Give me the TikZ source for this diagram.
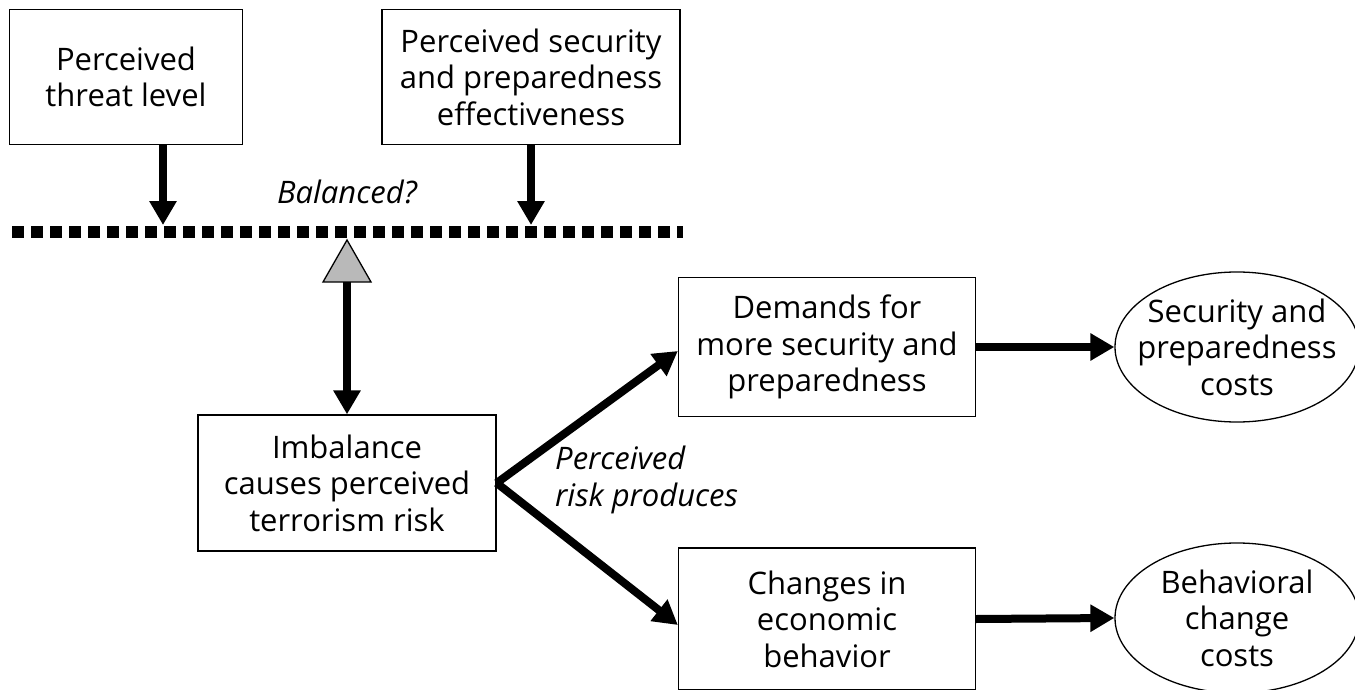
\documentclass[tikz,border=0pt]{standalone}
\usepackage{fontspec}
\setmainfont{Open Sans}
\usepackage{tikz}
\usetikzlibrary{arrows.meta, shapes.geometric, positioning}
\tikzset{%
  >={Triangle[width=26pt,length=24pt]},
  % Specifications for style of nodes:
          base/.style = {draw=black, line width=1.3pt, inner sep=0pt,
                         align=center, font=\fontsize{31}{36.5}\selectfont},
        factor/.style = {base, rectangle, minimum width=233pt, minimum height=135pt},
       outcome/.style = {base, rectangle, minimum width=297pt, minimum height=139pt},
          cost/.style = {base, ellipse, inner xsep=-24pt, inner ysep=-22pt,
                         minimum width=244pt, minimum height=150pt},
          note/.style = {font=\fontsize{31}{36.5}\selectfont\itshape, inner sep=0pt},
         heavy/.style = {->, line width=8pt},
}
\begin{document}
\begin{tikzpicture}[x=1pt, y=-1pt]
  \useasboundingbox (0,0) rectangle (1355,690);
  % Specification of nodes (position, etc.)
  \node (threat)  [factor] at (126,77) {Perceived\\threat level};
  \node (secure)  [factor, minimum width=298pt] at (531,77) {Perceived security\\and preparedness\\effectiveness};
  \node (balance) [note] at (347,192) {Balanced?};
  \node (risk)    [factor, minimum width=298pt, minimum height=136pt] at (347,483) {Imbalance\\causes perceived\\terrorism risk};
  \node (demand)  [outcome] at (827,347) {Demands for\\more security and\\preparedness};
  \node (change)  [outcome, minimum height=142pt] at (827,619) {Changes in\\economic\\behavior};
  \node (seccost) [cost] at (1237,347) {Security and\\preparedness\\costs};
  \node (behcost) [cost] at (1237,618) {Behavioral\\change\\costs};
  \node (produce) [note, align=left, anchor=north west] at (555,446) {Perceived\\risk produces};
  % the beam and its pivot
  \coordinate (beamL) at (12,232);
  \coordinate (beamR) at (683,232);
  \coordinate (tipL)  at (163,225);
  \coordinate (tipR)  at (531,225);
  \coordinate (pivot) at (347,282);
  \draw[line width=12pt, dash pattern=on 12pt off 7pt] (beamL) -- (beamR);
  \draw[line width=1.3pt, fill=gray!55] (347,240) -- (371,282) -- (323,282) -- cycle;
  % Specification of lines between nodes specified above
  \draw[heavy] (threat.south -| tipL) -- (tipL);
  \draw[heavy] (secure.south -| tipR) -- (tipR);
  \draw[heavy] (pivot) -- (risk.north);
  \draw[heavy] (risk.east) -- ([yshift=-4pt]demand.west);
  \draw[heavy] (risk.east) -- ([yshift=-6pt]change.west);
  \draw[heavy] (demand.east) -- (seccost.west);
  \draw[heavy] (change.east) -- (behcost.west);
\end{tikzpicture}
\end{document}
